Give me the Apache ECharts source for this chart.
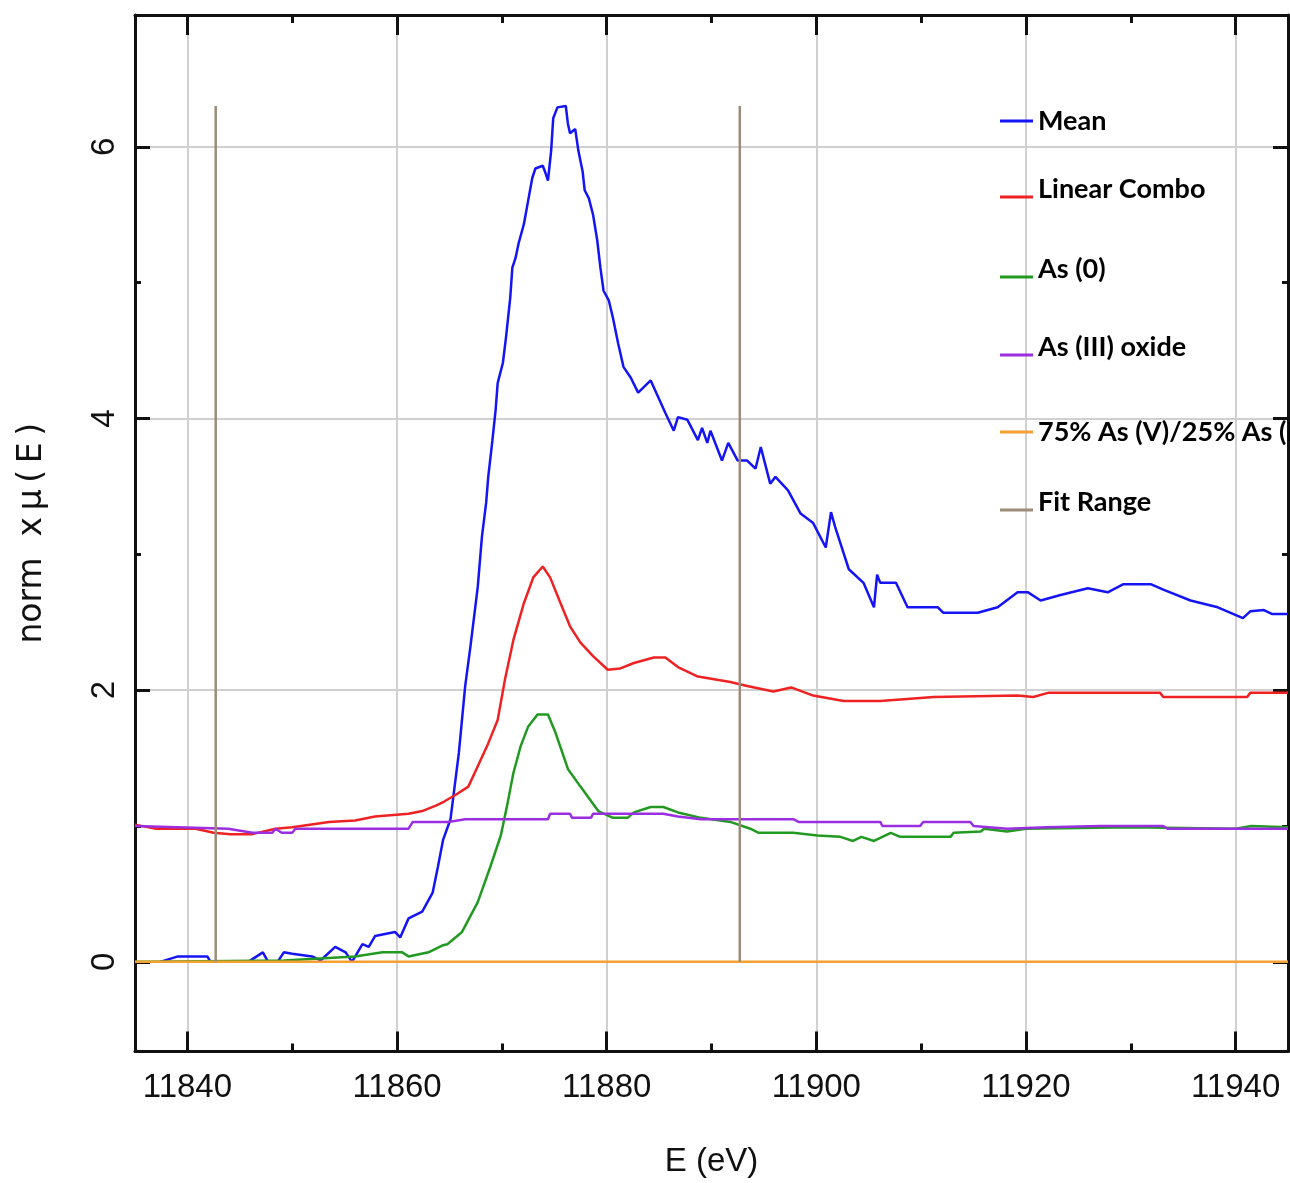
<!DOCTYPE html>
<html>
<head>
<meta charset="utf-8">
<title>norm xμ(E) vs E (eV)</title>
<script src="https://cdn.jsdelivr.net/npm/echarts@6/dist/echarts.min.js"></script>
<style>
  html, body { margin: 0; padding: 0; background: #ffffff; }
  #chart { width: 1290px; height: 1183px; }
</style>
</head>
<body>
<div id="chart"></div>
<script>
// ---- tick values ----
const xMajor = [11840, 11860, 11880, 11900, 11920, 11940];
const xMinor = [11850, 11870, 11890, 11910, 11930];
const yMajor = [0, 2, 4, 6];
const yMinor = [1, 3, 5];

// ---- spectra: [energy (eV), norm xμ(E)] ----
const mean = [
  [11837.4,0.00],[11839.1,0.04],[11841.9,0.04],[11842.2,0.00],[11845.8,0.00],[11847.2,0.07],
  [11847.7,0.00],[11848.6,0.00],[11849.2,0.07],[11850.0,0.06],[11851.9,0.04],[11852.7,0.01],
  [11854.1,0.11],[11855.1,0.07],[11855.7,0.00],[11856.7,0.13],[11857.3,0.11],[11857.9,0.19],
  [11859.8,0.22],[11860.3,0.18],[11861.1,0.32],[11862.4,0.37],[11863.4,0.51],[11863.9,0.70],
  [11864.4,0.90],[11865.1,1.05],[11865.9,1.54],[11866.5,2.03],[11867.0,2.32],[11867.7,2.76],
  [11868.1,3.13],[11868.5,3.38],[11868.7,3.57],[11869.1,3.84],[11869.4,4.06],[11869.6,4.26],
  [11870.1,4.41],[11870.4,4.60],[11870.8,4.89],[11871.0,5.11],[11871.3,5.18],[11871.6,5.29],
  [11872.1,5.43],[11872.5,5.60],[11872.9,5.77],[11873.2,5.84],[11873.9,5.86],[11874.1,5.82],
  [11874.4,5.75],[11874.7,5.97],[11874.9,6.21],[11875.3,6.29],[11876.1,6.30],[11876.3,6.17],
  [11876.5,6.10],[11877.0,6.13],[11877.3,5.97],[11877.7,5.82],[11877.9,5.68],[11878.3,5.62],
  [11878.7,5.50],[11879.1,5.31],[11879.4,5.11],[11879.7,4.94],[11880.2,4.87],[11880.6,4.74],
  [11881.1,4.55],[11881.6,4.38],[11882.3,4.30],[11883.0,4.19],[11884.2,4.28],[11884.9,4.16],
  [11885.6,4.04],[11886.4,3.91],[11886.8,4.01],[11887.7,3.99],[11888.7,3.84],[11889.1,3.93],
  [11889.6,3.82],[11889.9,3.91],[11891.0,3.69],[11891.6,3.82],[11892.5,3.69],[11893.4,3.69],
  [11894.2,3.63],[11894.7,3.79],[11895.6,3.52],[11896.1,3.57],[11897.3,3.47],[11898.5,3.30],
  [11899.7,3.23],[11900.9,3.05],[11901.4,3.31],[11901.8,3.20],[11903.1,2.89],[11904.5,2.79],
  [11905.5,2.61],[11905.8,2.85],[11906.1,2.79],[11907.6,2.79],[11908.7,2.61],[11911.6,2.61],
  [11912.1,2.57],[11915.4,2.57],[11917.3,2.61],[11919.2,2.72],[11920.2,2.72],[11921.4,2.66],
  [11923.3,2.70],[11925.9,2.75],[11927.8,2.72],[11929.3,2.78],[11931.9,2.78],[11933.1,2.74],
  [11935.7,2.66],[11938.3,2.61],[11940.7,2.53],[11941.4,2.58],[11942.7,2.59],[11943.5,2.56],
  [11945.0,2.56]
];

const linearCombo = [
  [11835.0,1.01],[11837.0,0.98],[11840.8,0.98],[11842.5,0.95],[11844.1,0.94],[11846.2,0.94],
  [11848.4,0.98],[11850.0,0.99],[11853.5,1.03],[11856.0,1.04],[11857.9,1.07],[11861.1,1.09],
  [11862.4,1.11],[11863.7,1.15],[11864.5,1.18],[11865.6,1.23],[11866.8,1.29],[11867.7,1.44],
  [11868.6,1.59],[11869.6,1.78],[11870.3,2.08],[11871.1,2.37],[11872.1,2.64],[11873.0,2.83],
  [11873.9,2.91],[11874.6,2.83],[11875.6,2.64],[11876.5,2.47],[11877.5,2.35],[11878.7,2.25],
  [11880.1,2.15],[11881.3,2.16],[11882.6,2.20],[11884.5,2.24],[11885.6,2.24],[11886.8,2.17],
  [11888.7,2.10],[11891.8,2.06],[11893.4,2.03],[11895.9,1.99],[11897.6,2.02],[11899.7,1.96],
  [11902.6,1.92],[11906.1,1.92],[11907.7,1.93],[11911.2,1.95],[11919.2,1.96],[11920.7,1.95],
  [11922.1,1.98],[11932.8,1.98],[11933.1,1.95],[11941.1,1.95],[11941.4,1.98],[11945.0,1.98]
];

const as0 = [
  [11835.0,0.00],[11836.0,0.00],[11849.2,0.01],[11856.0,0.04],[11858.6,0.07],[11860.5,0.07],
  [11861.1,0.04],[11863.0,0.07],[11864.3,0.12],[11864.8,0.13],[11866.2,0.22],[11867.7,0.44],
  [11868.9,0.70],[11869.9,0.93],[11870.5,1.15],[11871.1,1.39],[11871.8,1.59],[11872.5,1.73],
  [11873.4,1.82],[11874.4,1.82],[11875.1,1.69],[11876.3,1.42],[11877.5,1.29],[11879.2,1.11],
  [11880.6,1.06],[11882.0,1.06],[11882.6,1.10],[11884.2,1.14],[11885.4,1.14],[11886.8,1.10],
  [11889.0,1.06],[11891.8,1.03],[11893.7,0.98],[11894.5,0.95],[11897.8,0.95],[11900.1,0.93],
  [11902.3,0.92],[11903.5,0.89],[11904.3,0.92],[11905.5,0.89],[11907.1,0.95],[11908.0,0.92],
  [11912.8,0.92],[11913.1,0.95],[11915.7,0.96],[11916.0,0.98],[11918.2,0.96],[11920.0,0.98],
  [11930.0,0.99],[11940.0,0.98],[11941.5,1.00],[11945.0,0.99]
];

const as3oxide = [
  [11835.0,1.00],[11843.9,0.98],[11846.2,0.95],[11848.1,0.95],[11848.4,0.98],[11849.0,0.95],
  [11850.0,0.95],[11850.3,0.98],[11861.1,0.98],[11861.5,1.03],[11864.9,1.03],[11866.5,1.05],
  [11874.4,1.05],[11874.6,1.09],[11876.5,1.09],[11876.7,1.06],[11878.5,1.06],[11878.7,1.09],
  [11885.4,1.09],[11886.8,1.07],[11889.0,1.05],[11897.8,1.05],[11898.3,1.03],[11906.1,1.03],
  [11906.3,1.00],[11909.9,1.00],[11910.2,1.03],[11914.7,1.03],[11915.0,1.00],[11918.2,0.98],
  [11922.0,0.99],[11927.1,1.00],[11933.1,1.00],[11933.5,0.98],[11945.0,0.98]
];

const as5as3mix = [[11835.0,0.00],[11945.0,0.00]];

// fit window edges and the height of the marker lines
const fitLow = [[11842.7,0.00],[11842.7,6.30]];
const fitHigh = [[11892.7,0.00],[11892.7,6.30]];

// ---- styling ----
const X_MIN = 11835, X_MAX = 11945;
const Y_MIN = -0.66, Y_MAX = 6.97;
const INK = '#111111';
const frame = { color: INK, width: 3 };
const gridLine = { color: '#d0d0d0', width: 2 };

function numFmt(v) { return String(v); }

function xAx(pos, ticks, len, main) {
  return {
    type: 'value', position: pos, min: X_MIN, max: X_MAX,
    axisLine: { show: !!main, onZero: false, lineStyle: frame },
    axisTick: { show: true, inside: true, length: len, customValues: ticks, lineStyle: frame },
    axisLabel: { show: false },
    splitLine: { show: false }
  };
}
function yAx(pos, ticks, len, main) {
  return {
    type: 'value', position: pos, min: Y_MIN, max: Y_MAX,
    axisLine: { show: !!main, onZero: false, lineStyle: frame },
    axisTick: { show: true, inside: true, length: len, customValues: ticks, lineStyle: frame },
    axisLabel: { show: false },
    splitLine: { show: false }
  };
}

const xMain = xAx('bottom', xMajor, 20, true);
xMain.axisLabel = {
  show: true, customValues: xMajor, formatter: numFmt, margin: 20,
  fontFamily: 'Liberation Sans', fontSize: 33, color: INK, lineHeight: 32
};
xMain.splitLine = { show: true, lineStyle: gridLine };
xMain.name = 'E (eV)';
xMain.nameLocation = 'middle';
xMain.nameGap = 94;
xMain.nameTextStyle = { fontFamily: 'Liberation Sans', fontSize: 33, color: INK, lineHeight: 32 };

const yMain = yAx('left', yMajor, 15, true);
yMain.axisLabel = {
  show: true, customValues: yMajor, formatter: numFmt, rotate: 90, margin: 14,
  fontFamily: 'Liberation Sans', fontSize: 33, color: INK, lineHeight: 32
};
yMain.splitLine = { show: true, lineStyle: gridLine };
yMain.name = 'norm  x\u2009μ\u2009(\u2009E\u2009)';
yMain.nameLocation = 'middle';
yMain.nameGap = 87;
yMain.nameTextStyle = { fontFamily: 'DejaVu Sans', fontSize: 33, color: INK, lineHeight: 32 };

// Legend keys: a plain bar centred on the label, or a bar sitting near the
// label's baseline (the path's empty point at 0,0 keeps the bar at the bottom).
const ICON_MID = 'rect';
const ICON_LOW = 'path://M0,0L0,0M0,16L33,16L33,19L0,19Z';
const legendText = { fontFamily: 'Lato', fontWeight: 'bold', fontSize: 27, color: '#000', lineHeight: 30 };
function legendAt(name, top, low) {
  return {
    orient: 'vertical', left: 1000, top: top, padding: 0,
    itemWidth: 33, itemHeight: low ? 19 : 3,
    icon: low ? ICON_LOW : ICON_MID,
    selectedMode: false, data: [name], textStyle: legendText
  };
}

function lineSeries(name, data, color, z) {
  return {
    name: name, type: 'line', data: data, color: color,
    xAxisIndex: 0, yAxisIndex: 0,
    showSymbol: false, symbol: 'none', smooth: false, z: z,
    itemStyle: { color: color, borderWidth: 0 },
    lineStyle: { color: color, width: 2.5 },
    emphasis: { disabled: true }
  };
}

const option = {
  animation: false,
  backgroundColor: '#ffffff',
  grid: { left: 135, top: 15, right: 2, bottom: 130, containLabel: false },
  xAxis: [
    xMain,
    xAx('bottom', xMinor, 8, false),
    xAx('top', xMajor, 20, true),
    xAx('top', xMinor, 8, false)
  ],
  yAxis: [
    yMain,
    yAx('left', yMinor, 6, false),
    yAx('right', yMajor, 15, true),
    yAx('right', yMinor, 6, false)
  ],
  legend: [
    legendAt('Mean', 106, false),
    legendAt('Linear Combo', 174, true),
    legendAt('As (0)', 254, true),
    legendAt('As (III) oxide', 332, true),
    legendAt('75% As (V)/25% As (III)', 417, false),
    legendAt('Fit Range', 487, true)
  ],
  series: [
    lineSeries('Mean', mean, '#1414f5', 3),
    lineSeries('Linear Combo', linearCombo, '#ee2222', 4),
    lineSeries('As (0)', as0, '#229a22', 5),
    lineSeries('As (III) oxide', as3oxide, '#9a2ee0', 6),
    lineSeries('75% As (V)/25% As (III)', as5as3mix, '#f5a030', 7),
    lineSeries('Fit Range', fitLow, '#9c8c7a', 8),
    lineSeries('Fit Range', fitHigh, '#9c8c7a', 8)
  ]
};

const chart = echarts.init(document.getElementById('chart'), null, { renderer: 'canvas' });
chart.setOption(option);
</script>
</body>
</html>
